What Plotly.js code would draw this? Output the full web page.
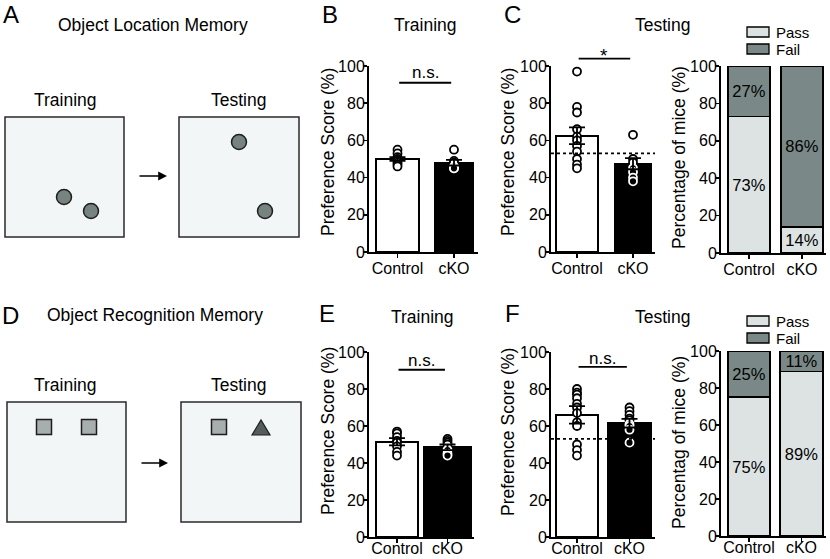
<!DOCTYPE html>
<html><head><meta charset="utf-8">
<script src="https://cdn.plot.ly/plotly-3.0.1.min.js"></script>
<style>html,body{margin:0;padding:0;background:#fff}#chart{width:830px;height:559px}</style>
</head><body><div id="chart"></div>
<script>
// ---------------- data ----------------
const groups = ['Control', 'cKO'];
const yTicks = [0, 20, 40, 60, 80, 100];
const passThreshold = 53;

const olmTrainMean = [50, 48];
const olmTrainSem = [1.0, 1.5];
const olmTrainControl = [55, 53, 51, 50, 49, 48, 47, 46];
const olmTrainCko = [55, 49, 48, 46, 45, 45];

const olmTestMean = [62.5, 47.5];
const olmTestSem = [4.5, 3.0];
const olmTestControl = [97, 78, 75, 66, 62, 60, 57, 54, 50, 47, 45];
const olmTestCko = [63, 50, 48, 45, 43, 40, 38];

const olmPass = [73, 14];
const olmFail = [27, 86];

const orTrainMean = [51.5, 48.5];
const orTrainSem = [2.0, 1.5];
const orTrainControl = [57, 56, 54, 52, 51, 49, 46, 44];
const orTrainCko = [53, 52, 51, 50, 47, 45, 44];

const orTestMean = [66, 61.5];
const orTestSem = [4.7, 2.3];
const orTestControl = [80, 78, 77, 75, 72, 70, 67, 62, 60, 50, 47, 44];
const orTestCko = [70, 68, 66, 64, 63, 61, 60, 58, 51];

const orPass = [75, 89];
const orFail = [25, 11];

// ---------------- layout geometry (pixels) ----------------
const W = 830, H = 559;
const FONT = 'Arial, "Liberation Sans", sans-serif';
const geo = {
  olmTrain: {n: '',  x0: 369, x1: 478, y0: 66,  y1: 252, c: [397.5, 454], w: [43, 38], tx: 328, ty: 152, xs: -3},
  olmTest:  {n: '2', x0: 551, x1: 655, y0: 66,  y1: 252, c: [577, 633],   w: [42, 36], tx: 508, ty: 152, xs: -3},
  olmPct:   {n: '3', x0: 721, x1: 826, y0: 66,  y1: 253, c: [749, 802],   w: [42, 42], tx: 679, ty: 158, xs: -3},
  orTrain:  {n: '4', x0: 369, x1: 474, y0: 352, y1: 537, c: [397, 447.5], w: [42, 48], tx: 328, ty: 431, xs: -8},
  orTest:   {n: '5', x0: 551, x1: 655, y0: 352, y1: 537, c: [577, 629.5], w: [42, 43], tx: 508, ty: 432, xs: -8},
  orPct:    {n: '6', x0: 721, x1: 826, y0: 351, y1: 536, c: [749, 801.5], w: [42, 43], tx: 679, ty: 443, xs: -8}
};
for (const k in geo) {
  const g = geo[k];
  const unit = g.c[1] - g.c[0];
  g.range = [(g.x0 - g.c[0]) / unit, 1 + (g.x1 - g.c[1]) / unit];
  g.widths = g.w.map(v => v / unit);
  g.dx = [g.x0 / W, g.x1 / W];
  g.dy = [1 - g.y1 / H, 1 - g.y0 / H];
}
const pxX = x => x / W;
const pxY = y => 1 - y / H;
function valX(g, v) { // axis value -> paper x
  return g.dx[0] + (v - g.range[0]) / (g.range[1] - g.range[0]) * (g.dx[1] - g.dx[0]);
}
function valY(g, v) { // axis value -> paper y
  return g.dy[0] + v / 100 * (g.dy[1] - g.dy[0]);
}

const traces = [];
const layout = {
  width: W, height: H,
  margin: {l: 0, r: 0, t: 0, b: 0},
  paper_bgcolor: '#fff', plot_bgcolor: 'rgba(0,0,0,0)',
  font: {family: FONT, color: '#000', size: 16},
  showlegend: false,
  barmode: 'stack',
  shapes: [], annotations: []
};

function label(text, x, y, size, angle) {
  layout.annotations.push({xref: 'paper', yref: 'paper', x: pxX(x), y: pxY(y), text: text,
    showarrow: false, xanchor: 'center', yanchor: 'middle', textangle: angle || 0,
    font: {size: size, family: FONT, color: '#000'}});
}

function axes(g, ytitle) {
  const xa = 'xaxis' + g.n, ya = 'yaxis' + g.n;
  layout[xa] = {
    domain: g.dx, range: g.range, type: 'category',
    anchor: 'y' + g.n, showline: true, linecolor: '#000', linewidth: 2,
    ticks: 'outside', ticklen: 4, tickwidth: 1.5, tickcolor: '#000', ticklabelstandoff: g.xs,
    tickfont: {size: 16, family: FONT, color: '#000'},
    showgrid: false, zeroline: false, fixedrange: true
  };
  layout[ya] = {
    domain: g.dy, range: [0, 100], tickvals: yTicks,
    anchor: 'x' + g.n, showline: true, linecolor: '#000', linewidth: 2,
    ticks: 'outside', ticklen: 4, tickwidth: 1.5, tickcolor: '#000', ticklabelstandoff: -5,
    tickfont: {size: 16, family: FONT, color: '#000'},
    showgrid: false, zeroline: false, fixedrange: true
  };
  label(ytitle, g.tx, g.ty, 17.5, -90);
}

function scorePanel(g, mean, sem, ctrl, cko, showThreshold) {
  axes(g, 'Preference Score (%)');
  const xr = 'x' + g.n, yr = 'y' + g.n;
  traces.push({
    type: 'bar', x: groups, y: mean, width: g.widths,
    marker: {color: ['#ffffff', '#000000'], line: {color: '#000', width: 1.6}},
    xaxis: xr, yaxis: yr, hoverinfo: 'skip'
  });
  const dot = (vals, name, meanV, dark) => ({
    type: 'scatter', mode: 'markers', x: vals.map(() => name), y: vals,
    marker: {
      size: 8, symbol: 'circle',
      color: vals.map(v => (dark && v < meanV) ? '#000' : '#fff'),
      line: {width: 1.8, color: vals.map(v => (dark && v < meanV) ? '#fff' : '#000')}
    },
    xaxis: xr, yaxis: yr, hoverinfo: 'skip', cliponaxis: false
  });
  traces.push(dot(ctrl, groups[0], mean[0], false));
  traces.push(dot(cko, groups[1], mean[1], true));
  traces.push({
    type: 'scatter', mode: 'markers', x: groups, y: mean,
    marker: {size: 1, color: 'rgba(0,0,0,0)'},
    error_y: {type: 'data', array: sem, visible: true, color: '#000', thickness: 1.8, width: 8},
    xaxis: xr, yaxis: yr, hoverinfo: 'skip'
  });
  if (showThreshold) {
    layout.shapes.push({
      type: 'line', xref: xr, yref: yr, x0: g.range[0], x1: g.range[1],
      y0: passThreshold, y1: passThreshold,
      line: {color: '#000', width: 1.8, dash: 'dot'}
    });
  }
}

function bracket(g, yVal, text, labelPy) {
  layout.shapes.push({
    type: 'line', xref: 'paper', yref: 'paper',
    x0: valX(g, 0.03), x1: valX(g, 0.95), y0: valY(g, yVal), y1: valY(g, yVal),
    line: {color: '#000', width: 1.8}
  });
  layout.annotations.push({
    xref: 'paper', yref: 'paper', x: valX(g, 0.49), y: pxY(labelPy),
    text: text, showarrow: false, xanchor: 'center', yanchor: 'middle',
    font: {size: text === '*' ? 19 : 17, family: FONT, color: '#000'}
  });
}

function pctPanel(g, pass, fail, ytitle, legendTop) {
  axes(g, ytitle);
  const xr = 'x' + g.n, yr = 'y' + g.n;
  const common = {
    type: 'bar', x: groups, width: g.widths, xaxis: xr, yaxis: yr,
    textposition: 'inside', insidetextanchor: 'middle', constraintext: 'none',
    textangle: 0, textfont: {size: 16.5, family: FONT, color: '#000'}, hoverinfo: 'skip'
  };
  traces.push(Object.assign({}, common, {
    name: 'Pass', y: pass, text: pass.map(v => v + '%'),
    marker: {color: '#dde3e3', line: {color: '#000', width: 1.6}}
  }));
  traces.push(Object.assign({}, common, {
    name: 'Fail', y: fail, text: fail.map(v => v + '%'),
    marker: {color: '#7a8987', line: {color: '#000', width: 1.6}}
  }));
  // legend key
  [['Pass', '#dde3e3', 0], ['Fail', '#7a8987', 17]].forEach(([t, c, off]) => {
    const top = legendTop + off;
    layout.shapes.push({
      type: 'rect', xref: 'paper', yref: 'paper',
      x0: pxX(747), x1: pxX(769), y0: pxY(top + 10), y1: pxY(top),
      fillcolor: c, line: {color: '#000', width: 1.3}
    });
    layout.annotations.push({
      xref: 'paper', yref: 'paper', x: pxX(774), y: pxY(top + 5),
      text: t, showarrow: false, xanchor: 'left', yanchor: 'middle',
      font: {size: 15, family: FONT, color: '#000'}
    });
  });
}

scorePanel(geo.olmTrain, olmTrainMean, olmTrainSem, olmTrainControl, olmTrainCko, false);
bracket(geo.olmTrain, 91, 'n.s.', 73);
scorePanel(geo.olmTest, olmTestMean, olmTestSem, olmTestControl, olmTestCko, true);
bracket(geo.olmTest, 104, '*', 56);
pctPanel(geo.olmPct, olmPass, olmFail, 'Percentage of mice (%)', 27);

scorePanel(geo.orTrain, orTrainMean, orTrainSem, orTrainControl, orTrainCko, false);
bracket(geo.orTrain, 90.4, 'n.s.', 360);
scorePanel(geo.orTest, orTestMean, orTestSem, orTestControl, orTestCko, true);
bracket(geo.orTest, 92, 'n.s.', 358);
pctPanel(geo.orPct, orPass, orFail, 'Percentag of mice (%)', 316);

// ---------------- schematic panels A and D (pixel-space hidden axes) ----------------
layout.xaxis7 = {domain: [0, 310 / W], range: [0, 310], visible: false, fixedrange: true, anchor: 'y7'};
layout.yaxis7 = {domain: [0, 1], range: [H, 0], visible: false, fixedrange: true, anchor: 'x7'};
traces.push({type: 'scatter', x: [], y: [], xaxis: 'x7', yaxis: 'y7', hoverinfo: 'skip'});

const arena = {fillcolor: '#f3f6f7', line: {color: '#2a2a2a', width: 1.5}};
const sref = {xref: 'x7', yref: 'y7'};
[[5, 117, 124, 237], [179, 117, 299, 237], [7, 402, 126, 522], [181, 402, 301, 522]].forEach(b => {
  layout.shapes.push(Object.assign({type: 'rect', x0: b[0], y0: b[1], x1: b[2], y1: b[3]}, sref, arena));
});
[[64, 197], [91, 211], [239, 142], [265, 211]].forEach(c => {
  layout.shapes.push(Object.assign({type: 'circle', x0: c[0] - 7.5, x1: c[0] + 7.5, y0: c[1] - 7.5, y1: c[1] + 7.5,
    fillcolor: '#76837f', line: {color: '#1e1e1e', width: 1.5}}, sref));
});
[[44, 427], [89, 427], [219, 427]].forEach(c => {
  layout.shapes.push(Object.assign({type: 'rect', x0: c[0] - 7.5, x1: c[0] + 7.5, y0: c[1] - 7.5, y1: c[1] + 7.5,
    fillcolor: '#a6afad', line: {color: '#1e1e1e', width: 1.5}}, sref));
});
layout.shapes.push(Object.assign({type: 'path', path: 'M 252 435 L 270 435 L 261 420 Z',
  fillcolor: '#545c5c', line: {color: '#1e1e1e', width: 1.2}}, sref));
[[138, 167, 176], [140, 168, 463]].forEach(a => {
  layout.annotations.push({xref: 'x7', yref: 'y7', axref: 'x7', ayref: 'y7',
    x: a[1], y: a[2], ax: a[0], ay: a[2], text: '', showarrow: true,
    arrowhead: 2, arrowsize: 1.1, arrowwidth: 1.6, arrowcolor: '#000'});
});

// ---------------- text labels ----------------
label('A', 11, 15, 24);
label('Object Location Memory', 153, 25, 17.5);
label('Training', 65, 100, 17.5);
label('Testing', 238, 100, 17.5);
label('D', 10, 315, 24);
label('Object Recognition Memory', 155, 315, 17.5);
label('Training', 65, 385, 17.5);
label('Testing', 238, 385, 17.5);
label('B', 330, 14, 24);
label('Training', 425, 25, 17.5);
label('C', 512, 14, 24);
label('Testing', 662, 25, 17.5);
label('E', 327, 313, 24);
label('Training', 423, 317, 17.5);
label('F', 512, 313, 24);
label('Testing', 662, 317, 17.5);

Plotly.newPlot('chart', traces, layout, {staticPlot: true, displayModeBar: false});
</script>
</body></html>
